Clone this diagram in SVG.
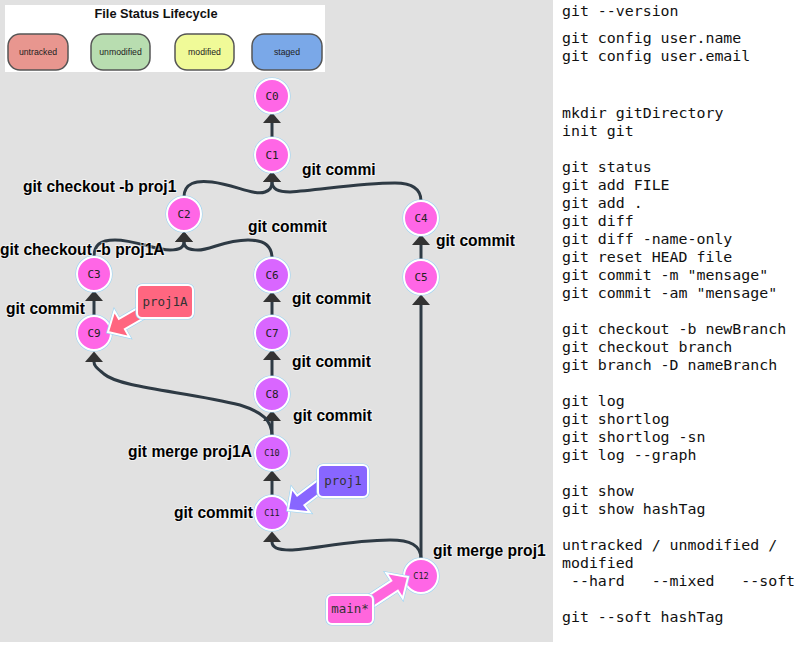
<svg xmlns="http://www.w3.org/2000/svg" width="803" height="652" viewBox="0 0 803 652">
<style>
.bg{fill:#e1e1e1}
.pill{stroke:#555;stroke-width:1.5}
.ptxt{font-family:"Liberation Sans",Arial,sans-serif;font-size:8.7px;fill:#222;text-anchor:middle}
.title{font-family:"Liberation Sans",Arial,sans-serif;font-size:12.8px;font-weight:bold;fill:#111;text-anchor:middle}
.halo{fill:none;stroke:#9ad4f5;stroke-width:3.2}
.node{stroke:#fff;stroke-width:2}
.pink{fill:#ff66e6}
.purple{fill:#d966ff}
.nl{font-family:"DejaVu Sans Mono","Liberation Mono",monospace;font-size:11px;fill:#222;text-anchor:middle}
.nls{font-size:8.5px}
.edge{fill:none;stroke:#2e3a44;stroke-width:3}
.el{font-family:"Liberation Sans",Arial,sans-serif;font-size:15.6px;font-weight:bold;fill:#000;stroke:#fff;stroke-opacity:0.55;stroke-width:2;paint-order:stroke}
.cl{stroke:#fff;stroke-width:2}
.ctxt{font-family:"DejaVu Sans Mono","Liberation Mono",monospace;font-size:12.5px;fill:#333;text-anchor:middle}
.code{font-family:"DejaVu Sans Mono","Liberation Mono",monospace;font-size:14.9px;fill:#111;white-space:pre}
</style>
<defs>
<marker id="ah" markerUnits="userSpaceOnUse" markerWidth="12" markerHeight="20" viewBox="0 0 12 20" refX="0" refY="10" orient="auto">
<path d="M0,1 L10.5,10 L0,19 z" fill="#333"/>
</marker>
<polygon id="fat" points="0,0 16,-15 16,-6 50,-6 50,6 16,6 16,15"/>
</defs>
<rect class="bg" x="0" y="0" width="553" height="642"/>

<g id="legend">
<rect x="5" y="5" width="320" height="67" fill="#fff"/>
<text class="title" x="156" y="18">File Status Lifecycle</text>
<rect class="pill" x="8" y="34" width="60" height="36" rx="12" fill="#e8968f"/>
<text class="ptxt" x="38" y="55">untracked</text>
<rect class="pill" x="91" y="34" width="59" height="36" rx="12" fill="#b8ddb0"/>
<text class="ptxt" x="120.5" y="55">unmodified</text>
<rect class="pill" x="175" y="34" width="59" height="36" rx="12" fill="#f0fa98"/>
<text class="ptxt" x="204.5" y="55">modified</text>
<rect class="pill" x="252" y="34" width="70" height="36" rx="12" fill="#7aa8e8"/>
<text class="ptxt" x="287" y="55">staged</text>
</g>

<g id="connectors">
<path class="edge" d="M272,138 L272,123" marker-end="url(#ah)"/>
<path class="edge" d="M184,197 C184,183 196,180 212,182 C235,185 255,196 265,192 C270,190 272,188 272,182" marker-end="url(#ah)"/>
<path class="edge" d="M421,201 C421,187 410,183 395,183 C360,183 320,190 290,192 C280,192 272,190 272,182" marker-end="url(#ah)"/>
<path class="edge" d="M94,257 C94,245 100,240 115,240 C135,240 155,250 170,250 C178,250 184,248 184,242" marker-end="url(#ah)"/>
<path class="edge" d="M272,258 C272,245 262,240 248,240 C225,240 210,250 198,250 C190,250 184,248 184,242" marker-end="url(#ah)"/>
<path class="edge" d="M94,316 L94,301" marker-end="url(#ah)"/>
<path class="edge" d="M421,260 L421,245" marker-end="url(#ah)"/>
<path class="edge" d="M272,316 L272,302" marker-end="url(#ah)"/>
<path class="edge" d="M272,377 L272,360" marker-end="url(#ah)"/>
<path class="edge" d="M272,436 L272,421" marker-end="url(#ah)"/>
<path class="edge" d="M272,496 L272,481" marker-end="url(#ah)"/>
<path class="edge" d="M272,436 C272,420 262,412 240,405 C190,392 120,388 104,374 C97,368 94,366 94,362" marker-end="url(#ah)"/>
<path class="edge" d="M421,559 L421,305" marker-end="url(#ah)"/>
<path class="edge" d="M421,559 C421,545 410,540 390,540 C350,540 310,550 290,550 C280,550 272,548 272,542" marker-end="url(#ah)"/>
</g>

<g id="edge-labels">
<text class="el" x="23" y="192">git checkout -b proj1</text>
<text class="el" x="0" y="255">git checkout -b proj1A</text>
<text class="el" x="302" y="175">git commi</text>
<text class="el" x="248" y="232">git commit</text>
<text class="el" x="436" y="246">git commit</text>
<text class="el" x="292" y="304">git commit</text>
<text class="el" x="6" y="314">git commit</text>
<text class="el" x="292" y="367">git commit</text>
<text class="el" x="293" y="421">git commit</text>
<text class="el" x="128" y="457">git merge proj1A</text>
<text class="el" x="174" y="518">git commit</text>
<text class="el" x="433" y="556">git merge proj1</text>
</g>

<g id="C0"><circle class="halo" cx="272" cy="96" r="17"/><circle class="node pink" cx="272" cy="96" r="17"/><text class="nl" x="272" y="100">C0</text></g>
<g id="C1"><circle class="halo" cx="272" cy="155" r="17"/><circle class="node pink" cx="272" cy="155" r="17"/><text class="nl" x="272" y="159">C1</text></g>
<g id="C2"><circle class="halo" cx="184" cy="214" r="17"/><circle class="node pink" cx="184" cy="214" r="17"/><text class="nl" x="184" y="218">C2</text></g>
<g id="C3"><circle class="halo" cx="94" cy="274" r="17"/><circle class="node pink" cx="94" cy="274" r="17"/><text class="nl" x="94" y="278">C3</text></g>
<g id="C4"><circle class="halo" cx="421" cy="218" r="17"/><circle class="node pink" cx="421" cy="218" r="17"/><text class="nl" x="421" y="222">C4</text></g>
<g id="C5"><circle class="halo" cx="421" cy="277" r="17"/><circle class="node pink" cx="421" cy="277" r="17"/><text class="nl" x="421" y="281">C5</text></g>
<g id="C6"><circle class="halo" cx="272" cy="275" r="17"/><circle class="node purple" cx="272" cy="275" r="17"/><text class="nl" x="272" y="279">C6</text></g>
<g id="C7"><circle class="halo" cx="272" cy="333" r="17"/><circle class="node purple" cx="272" cy="333" r="17"/><text class="nl" x="272" y="337">C7</text></g>
<g id="C8"><circle class="halo" cx="272" cy="394" r="17"/><circle class="node purple" cx="272" cy="394" r="17"/><text class="nl" x="272" y="398">C8</text></g>
<g id="C9"><circle class="halo" cx="94" cy="333" r="17"/><circle class="node pink" cx="94" cy="333" r="17"/><text class="nl" x="94" y="337">C9</text></g>
<g id="C10"><circle class="halo" cx="272" cy="453" r="17"/><circle class="node purple" cx="272" cy="453" r="17"/><text class="nl nls" x="272" y="456">C10</text></g>
<g id="C11"><circle class="halo" cx="272" cy="513" r="17"/><circle class="node purple" cx="272" cy="513" r="17"/><text class="nl nls" x="272" y="516">C11</text></g>
<g id="C12"><circle class="halo" cx="421" cy="576" r="17"/><circle class="node pink" cx="421" cy="576" r="17"/><text class="nl nls" x="421" y="579">C12</text></g>

<g id="proj1A">
<use href="#fat" class="halo" transform="translate(108,332) rotate(-30)"/>
<use href="#fat" class="cl" fill="#ff6680" transform="translate(108,332) rotate(-30)"/>
<rect class="halo" x="137" y="285" width="56" height="33" rx="5"/>
<rect class="cl" x="137" y="285" width="56" height="33" rx="5" fill="#ff6680"/>
<text class="ctxt" x="165" y="306">proj1A</text>
</g>
<g id="proj1">
<use href="#fat" class="halo" transform="translate(288,510) rotate(-37)"/>
<use href="#fat" class="cl" fill="#8866ff" transform="translate(288,510) rotate(-37)"/>
<rect class="halo" x="318" y="465" width="50" height="32" rx="5"/>
<rect class="cl" x="318" y="465" width="50" height="32" rx="5" fill="#8866ff"/>
<text class="ctxt" x="343" y="485">proj1</text>
</g>
<g id="main">
<use href="#fat" class="halo" transform="translate(408,577) rotate(147)"/>
<use href="#fat" class="cl" fill="#ff66dd" transform="translate(408,577) rotate(147)"/>
<rect class="halo" x="327" y="595" width="46" height="29" rx="5"/>
<rect class="cl" x="327" y="595" width="46" height="29" rx="5" fill="#ff66dd"/>
<text class="ctxt" x="350" y="613">main*</text>
</g>

<g id="commands">
<text class="code" x="562" y="16">git --version</text>
<text class="code" x="562" y="43">git config user.name</text>
<text class="code" x="562" y="61">git config user.email</text>
<text class="code" x="562" y="118">mkdir gitDirectory</text>
<text class="code" x="562" y="136">init git</text>
<text class="code" x="562" y="172">git status</text>
<text class="code" x="562" y="190">git add FILE</text>
<text class="code" x="562" y="208">git add .</text>
<text class="code" x="562" y="226">git diff</text>
<text class="code" x="562" y="244">git diff -name-only</text>
<text class="code" x="562" y="262">git reset HEAD file</text>
<text class="code" x="562" y="280">git commit -m "mensage"</text>
<text class="code" x="562" y="298">git commit -am "mensage"</text>
<text class="code" x="562" y="334">git checkout -b newBranch</text>
<text class="code" x="562" y="352">git checkout branch</text>
<text class="code" x="562" y="370">git branch -D nameBranch</text>
<text class="code" x="562" y="406">git log</text>
<text class="code" x="562" y="424">git shortlog</text>
<text class="code" x="562" y="442">git shortlog -sn</text>
<text class="code" x="562" y="460">git log --graph</text>
<text class="code" x="562" y="496">git show</text>
<text class="code" x="562" y="514">git show hashTag</text>
<text class="code" x="562" y="550">untracked / unmodified /</text>
<text class="code" x="562" y="568">modified</text>
<text class="code" x="562" y="586" xml:space="preserve"> --hard   --mixed   --soft</text>
<text class="code" x="562" y="622">git --soft hashTag</text>
</g>
</svg>
